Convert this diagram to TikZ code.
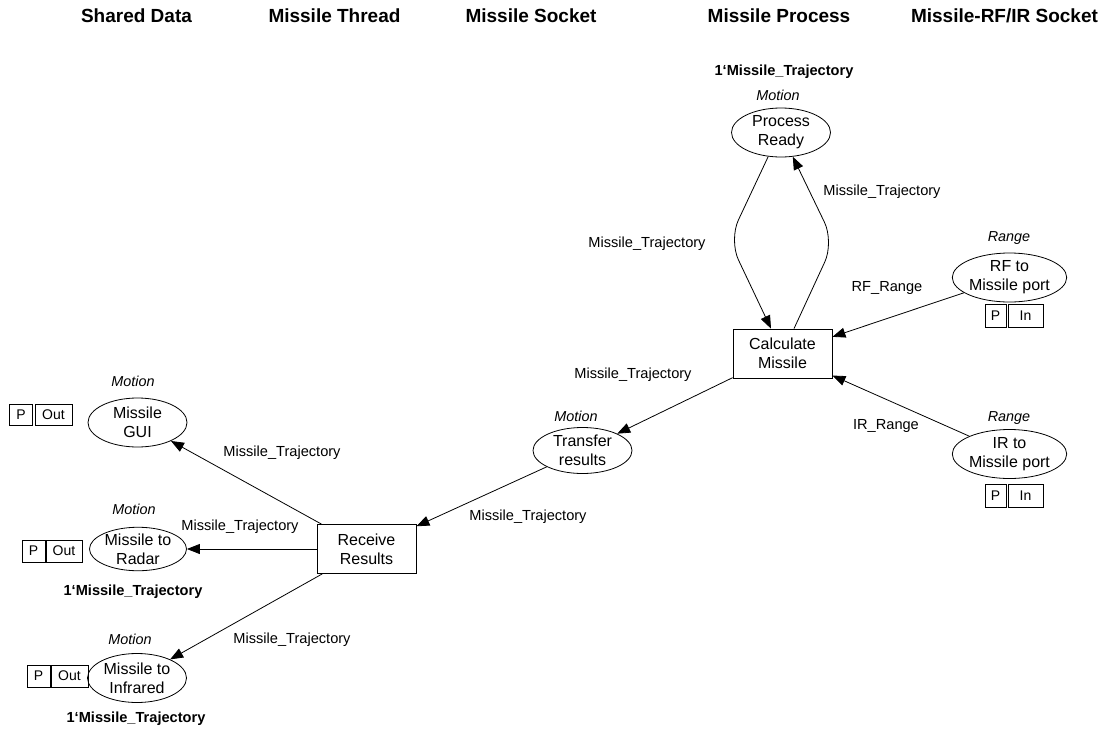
\documentclass[tikz,border=0pt]{standalone}
\usepackage{fontspec}
\setmainfont{Liberation Sans}
\usetikzlibrary{shapes.geometric,arrows.meta,calc}
\begin{document}
\begin{tikzpicture}[x=1pt,y=-1pt,
 place/.style={draw, line width=0.8pt, ellipse, minimum width=99pt, minimum height=49pt, inner sep=0pt, align=center, font=\fontsize{16}{19}\selectfont},
 trans/.style={draw, line width=0.8pt, rectangle, minimum width=99pt, minimum height=49pt, inner sep=0pt, align=center, font=\fontsize{16}{19}\selectfont},
 arclbl/.style={font=\fontsize{14.6}{17}\selectfont, inner sep=0pt},
 typelbl/.style={font=\fontsize{14.4}{17}\selectfont\itshape, inner sep=0pt},
 initlbl/.style={font=\fontsize{14.6}{17}\selectfont\bfseries, inner sep=0pt},
 head/.style={font=\fontsize{19}{22}\selectfont\bfseries, inner sep=0pt},
 portcell/.style={draw, line width=0.8pt, inner sep=0pt, font=\fontsize{14}{16}\selectfont},
 arc/.style={draw, line width=0.8pt, -{Triangle[length=13pt,width=10pt]}},
]
\useasboundingbox (0,0) rectangle (1104,731);

% headings
\node[head] (h1) at (136.5,16) {Shared Data};
\node[head] (h2) at (334.5,16) {Missile Thread};
\node[head] (h3) at (531,16) {Missile Socket};
\node[head] (h4) at (779,16) {Missile Process};
\node[head] (h5) at (1004.5,16) {Missile-RF/IR Socket};

% places and transitions
\node[place] (pr) at (781,132.5) {Process\\Ready};
\node[trans] (cm) at (782.5,353.5) {Calculate\\Missile};
\node[place] (rf) at (1009.5,277.5) {RF to\\Missile port};
\node[place] (ir) at (1009.5,454) {IR to\\Missile port};
\node[place, minimum height=46pt] (tr) at (582.5,450.5) {Transfer\\results};
\node[trans] (rr) at (366.5,549) {Receive\\Results};
\node[place] (gui) at (137.5,422.5) {Missile\\GUI};
\node[place, minimum width=97pt, minimum height=43pt] (rad) at (138,549) {Missile to\\Radar};
\node[place] (inf) at (137,678) {Missile to\\Infrared};

% type and initial marking labels
\node[initlbl] (i1) at (784,72) {1‘Missile\_Trajectory};
\node[typelbl] (m1) at (778,95) {Motion};
\node[typelbl] (r1) at (1009,238) {Range};
\node[typelbl] (r2) at (1009,418) {Range};
\node[typelbl] (m2) at (576,416) {Motion};
\node[typelbl] (m3) at (133,381) {Motion};
\node[typelbl] (m4) at (134,509) {Motion};
\node[initlbl] (i2) at (133,592) {1‘Missile\_Trajectory};
\node[typelbl] (m5) at (130,639) {Motion};
\node[initlbl] (i3) at (136,719) {1‘Missile\_Trajectory};

% port boxes
\node[portcell, minimum width=21pt, minimum height=23pt] (rfp) at (995.5,316) {P};
\node[portcell, minimum width=35pt, minimum height=23pt] (rfi) at (1025.5,316) {In};
\node[portcell, minimum width=21pt, minimum height=23pt] (irp) at (995.5,496) {P};
\node[portcell, minimum width=35pt, minimum height=23pt] (iri) at (1025.5,496) {In};
\node[portcell, minimum width=23pt, minimum height=21pt] (gp) at (21,415) {P};
\node[portcell, minimum width=37pt, minimum height=21pt] (go) at (53.5,415) {Out};
\node[portcell, minimum width=23pt, minimum height=22pt] (rp) at (33.5,551) {P};
\node[portcell, minimum width=36pt, minimum height=22pt] (ro) at (64,551) {Out};
\node[portcell, minimum width=23pt, minimum height=22pt] (ip) at (38.5,676) {P};
\node[portcell, minimum width=37pt, minimum height=22pt] (io) at (69.5,676) {Out};

% arcs
\draw[arc, rounded corners=22pt] (pr.242) -- (729,240) -- ($(cm.north)+(-11.5,0)$);
\draw[arc, rounded corners=22pt] ($(cm.north)+(11.5,0)$) -- (834,242) -- (pr.296);
\draw[arc] (rf) -- (cm);
\draw[arc] (ir) -- (cm);
\draw[arc] (cm) -- (tr);
\draw[arc] (tr) -- (rr);
\draw[arc] (rr) -- (gui);
\draw[arc] (rr) -- (rad);
\draw[arc] (rr) -- (inf);

% arc labels
\node[arclbl] (a1) at (647,244) {Missile\_Trajectory};
\node[arclbl] (a2) at (882,192) {Missile\_Trajectory};
\node[arclbl] (a3) at (887,288) {RF\_Range};
\node[arclbl] (a4) at (886,426) {IR\_Range};
\node[arclbl] (a5) at (633,375) {Missile\_Trajectory};
\node[arclbl] (a6) at (528,517) {Missile\_Trajectory};
\node[arclbl] (a7) at (282,453) {Missile\_Trajectory};
\node[arclbl] (a8) at (240,527) {Missile\_Trajectory};
\node[arclbl] (a9) at (292,640) {Missile\_Trajectory};
\end{tikzpicture}
\end{document}
